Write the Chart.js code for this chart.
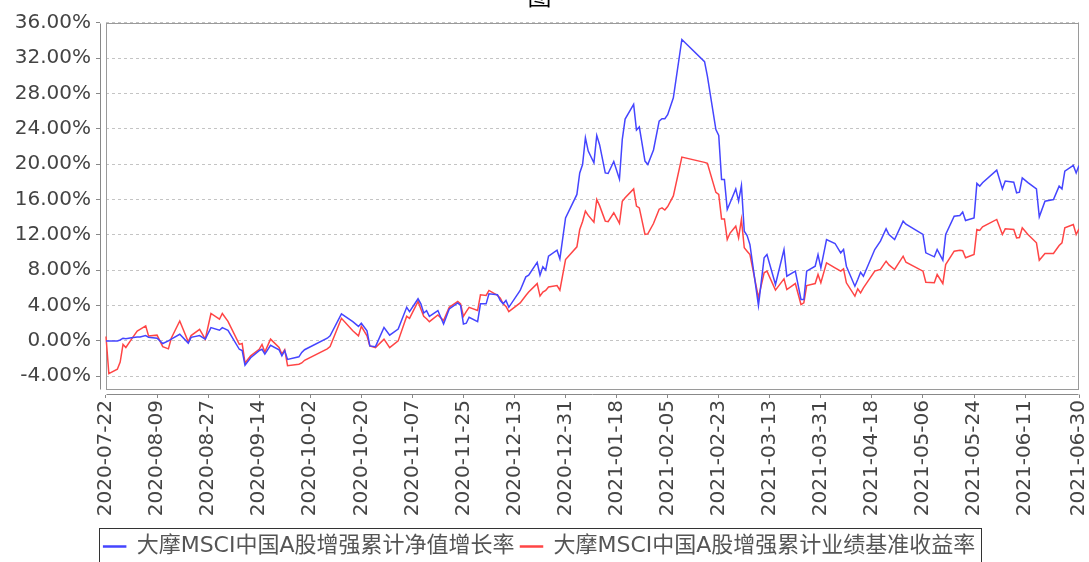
<!DOCTYPE html>
<html>
<head>
<meta charset="utf-8">
<script src="https://cdn.jsdelivr.net/npm/chart.js@4.4.1/dist/chart.umd.min.js"></script>
<style>
  html, body { margin: 0; padding: 0; background: #fff; }
</style>
</head>
<body>
<canvas id="chart" width="1089" height="562"></canvas>
<script>
// days since 2020-07-22 (trading days)
const START_DATE = Date.UTC(2020, 6, 22);
const days = [0,1,4,5,6,7,9,11,12,14,15,18,20,22,23,26,29,30,33,35,37,40,41,43,47,48,49,51,54,55,56,58,61,62,63,64,68,69,70,78,79,83,87,89,90,92,93,95,98,100,103,106,107,110,111,112,113,114,117,119,121,124,125,126,127,128,131,132,134,135,138,139,140,141,142,146,148,149,152,153,154,155,156,159,160,162,166,167,168,169,170,172,173,174,176,177,179,181,182,183,186,187,188,190,191,193,195,196,197,198,200,203,211,212,215,216,217,218,219,220,222,223,224,225,226,227,230,232,233,236,239,240,243,245,246,247,250,251,252,254,257,259,260,261,264,265,266,267,271,273,275,276,278,281,282,288,289,292,293,295,296,299,301,302,303,306,307,308,309,314,316,317,320,321,322,323,325,328,329,331,334,336,337,338,341,342,343];

const fundReturn = [0,0,0,0.1,0.3,0.25,0.35,0.45,0.45,0.6,0.4,0.3,-0.3,0,0.2,0.75,-0.25,0.4,0.6,0.2,1.5,1.2,1.5,1.2,-0.95,-1.1,-2.75,-1.9,-1.1,-0.95,-1.5,-0.5,-1.0,-1.7,-1.1,-2.1,-1.8,-1.3,-1.0,0.3,0.57,3.05,2.17,1.64,2.0,1.14,-0.57,-0.65,1.52,0.65,1.33,3.8,3.3,4.76,4.19,3.16,3.43,2.78,3.43,1.9,3.62,4.3,4.0,1.9,2.0,2.67,2.17,4.19,4.19,5.33,5.22,4.57,4.19,4.57,3.8,5.7,7.24,7.43,8.88,7.43,8.38,8.0,9.58,10.26,9.28,13.92,16.57,19.0,19.96,22.98,21.47,20.15,23.25,22.2,19.0,18.94,20.3,18.3,22.8,25.1,26.75,23.85,24.2,20.34,19.96,21.6,24.87,25.13,25.13,25.6,27.5,34.1,31.6,29.96,23.9,23.25,18.26,18.26,14.87,15.62,17.2,15.81,17.58,12.4,11.92,10.9,4.0,9.4,9.77,6.38,10.34,7.32,7.89,4.68,4.68,7.89,8.45,9.77,8.26,11.47,11.02,9.96,10.34,8.45,6.19,6.94,7.77,7.32,10.34,11.28,12.68,12.04,11.47,13.55,13.2,12.04,9.96,9.51,10.34,9.13,12.04,14.11,14.19,14.57,13.62,13.92,17.81,17.51,17.89,19.32,17.2,18.08,17.96,16.75,16.83,18.45,17.9,17.2,14.04,15.81,16.0,17.51,17.2,19.2,19.85,19.0,19.85];

const benchmarkReturn = [0.5,-3.7,-3.2,-2.4,-0.4,-0.75,0.2,1.1,1.3,1.7,0.55,0.65,-0.65,-0.9,0.3,2.25,-0.1,0.6,1.3,0.2,3.1,2.45,3.1,2.2,-0.4,-0.3,-2.5,-1.7,-0.95,-0.4,-1.25,0.2,-0.75,-1.5,-1.0,-2.8,-2.65,-2.5,-2.2,-0.9,-0.65,2.55,1.14,0.57,1.64,0.57,-0.57,-0.76,0.19,-0.76,0,2.78,2.55,4.46,3.6,2.78,2.5,2.17,2.93,2.29,3.8,4.46,4.19,2.78,3.3,3.8,3.43,5.22,5.14,5.71,5.14,4.84,4.19,3.9,3.3,4.3,5.14,5.52,6.48,5.07,5.52,5.71,6.1,6.26,5.74,9.2,10.64,12.6,13.5,14.68,14.2,13.43,16.0,15.3,13.55,13.5,14.5,13.3,15.8,16.2,17.2,15.25,15.05,12.04,12.1,13.28,14.9,15.05,14.8,15.2,16.4,20.8,20.2,20.08,16.8,16.57,13.8,13.8,11.47,12.2,12.98,11.66,13.74,10.53,10.15,9.77,4.9,7.7,7.89,5.74,7.02,5.81,6.49,4.11,4.3,6.26,6.49,7.51,6.57,8.83,8.26,7.89,8.15,6.57,5.06,5.89,5.43,6.0,7.89,8.08,9.02,8.6,8.08,9.58,8.9,7.89,6.64,6.57,7.51,6.49,8.64,10.15,10.26,10.2,9.4,9.77,12.6,12.5,12.9,13.74,12.04,12.68,12.6,11.66,11.7,12.79,12.04,11.1,9.13,9.89,9.89,10.79,11.1,12.79,13.17,12.04,12.68];

const seriesNames = ['大摩MSCI中国A股增强累计净值增长率', '大摩MSCI中国A股增强累计业绩基准收益率'];
const tickDays = [0,18,36,54,72,90,108,126,144,162,180,198,216,234,252,270,288,306,324,343];
const yTicks = [-4,0,4,8,12,16,20,24,28,32,36];

const END_DAY = 343;
const Y_MAX = 36;
const Y_FRAME_MIN = -5.45;

function dayLabel(d) {
  return new Date(START_DATE + d * 86400000).toISOString().slice(0, 10);
}

const tickFont = { family: "'DejaVu Sans', sans-serif", size: 20 };

// plot frame offset from the axes, and the box around the legend
const framePlugin = {
  id: 'frame',
  beforeDatasetsDraw(chart) {
    const { ctx, chartArea: a, scales: { x, y } } = chart;
    const l = Math.round(x.getPixelForValue(0)) + 0.5;
    const r = Math.round(x.getPixelForValue(END_DAY)) - 0.5;
    const t = Math.round(y.getPixelForValue(Y_MAX)) + 0.5;
    const b = Math.round(y.getPixelForValue(Y_FRAME_MIN)) + 0.5;
    ctx.save();
    ctx.fillStyle = '#fff';
    ctx.fillRect(a.left, a.top - 1, l - a.left - 0.5, a.bottom - a.top + 2);
    ctx.fillRect(a.left, b + 0.5, a.right - a.left + 1, a.bottom - b);
    ctx.strokeStyle = '#9a9a9a';
    ctx.lineWidth = 1;
    ctx.strokeRect(l, t, r - l, b - t);
    ctx.strokeStyle = '#888';
    ctx.beginPath();
    ctx.moveTo(Math.round(a.left) + 0.5, t);
    ctx.lineTo(Math.round(a.left) + 0.5, b);
    ctx.moveTo(l, Math.round(a.bottom) + 0.5);
    ctx.lineTo(r, Math.round(a.bottom) + 0.5);
    ctx.stroke();
    ctx.restore();
  },
  afterDraw(chart) {
    const hb = chart.legend.legendHitBoxes;
    if (!hb || !hb.length) return;
    const first = hb[0], last = hb[hb.length - 1];
    const ctx = chart.ctx;
    ctx.save();
    ctx.strokeStyle = '#333';
    ctx.lineWidth = 1;
    const left = Math.round(first.left - 5) + 0.5;
    const right = Math.round(last.left + last.width + 6) + 0.5;
    const top = Math.round(first.top - 8) + 0.5;
    ctx.strokeRect(left, top, right - left, 60);
    ctx.restore();
  }
};

new Chart(document.getElementById('chart'), {
  type: 'line',
  data: {
    datasets: [{
      label: seriesNames[0],
      data: days.map((d, i) => ({ x: d, y: fundReturn[i] })),
      borderColor: '#4545ff',
      backgroundColor: '#4545ff',
      borderWidth: 1.5,
      pointRadius: 0,
      tension: 0
    }, {
      label: seriesNames[1],
      data: days.map((d, i) => ({ x: d, y: benchmarkReturn[i] })),
      borderColor: '#ff4545',
      backgroundColor: '#ff4545',
      borderWidth: 1.5,
      pointRadius: 0,
      tension: 0
    }]
  },
  options: {
    responsive: false,
    animation: false,
    devicePixelRatio: 1,
    layout: { padding: { left: 0, right: 10, top: 0, bottom: -5.5 } },
    scales: {
      x: {
        type: 'linear',
        min: -2.115,
        max: END_DAY,
        afterBuildTicks: (scale) => { scale.ticks = tickDays.map(v => ({ value: v })); },
        afterFit: (scale) => {
          scale.height = 135.5;
          scale.paddingLeft = 0;
          scale.paddingRight = 0;
        },
        grid: { drawOnChartArea: false, drawTicks: true, tickLength: 4, color: '#888' },
        border: { display: false },
        ticks: {
          autoSkip: false,
          minRotation: 90,
          maxRotation: 90,
          padding: 2,
          color: '#444',
          font: tickFont,
          callback: (v) => dayLabel(v)
        }
      },
      y: {
        min: -6.01,
        max: Y_MAX,
        afterBuildTicks: (scale) => { scale.ticks = yTicks.map(v => ({ value: v })); },
        afterFit: (scale) => { scale.width = 100; },
        grid: { color: '#c4c4c4', tickColor: '#888', tickLength: 4, tickBorderDash: [] },
        border: { display: false, dash: [3, 3] },
        ticks: {
          padding: 5,
          color: '#444',
          font: tickFont,
          callback: (v) => v.toFixed(2) + '%'
        }
      }
    },
    plugins: {
      title: {
        display: true,
        text: '图',
        color: '#000',
        font: { family: "'Noto Sans CJK SC', sans-serif", size: 24, weight: 'normal' },
        padding: { top: -19, bottom: 12.9 }
      },
      legend: {
        position: 'bottom',
        labels: {
          boxWidth: 22,
          boxHeight: 1,
          padding: 6,
          color: '#555',
          font: { family: "'DejaVu Sans', 'Noto Sans CJK SC', sans-serif", size: 22 }
        }
      },
      tooltip: { enabled: false }
    }
  },
  plugins: [framePlugin]
});
</script>
</body>
</html>
